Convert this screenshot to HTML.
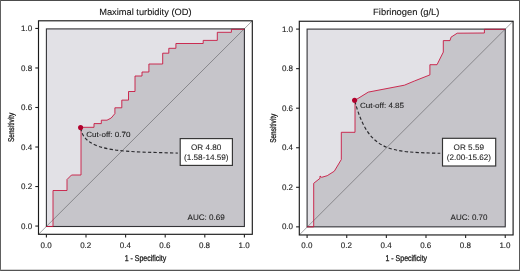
<!DOCTYPE html>
<html><head><meta charset="utf-8"><title>ROC curves</title>
<style>
html,body{margin:0;padding:0;background:#fff;}
body{width:520px;height:271px;overflow:hidden;position:relative;}
svg{display:block;position:absolute;left:0;top:0;will-change:transform;}
text{font-family:"Liberation Sans",sans-serif;text-rendering:geometricPrecision;fill:#1c1c1c;stroke:#1c1c1c;stroke-width:0.22px;}
.tk{font-size:8px;stroke-width:0.12px;}
.ct{font-size:7.5px;stroke-width:0.08px;}
.bx{font-size:8px;stroke-width:0.08px;}
.tt{font-size:9.1px;fill:#141414;stroke:#141414;stroke-width:0.1px;}
.ax{font-size:8.4px;stroke-width:0.3px;}
</style></head>
<body>
<svg width="520" height="271" viewBox="0 0 520 271">
<rect x="0" y="0" width="520" height="271" fill="#fff"/>
<rect x="46.4" y="28.9" width="198.0" height="197.6" fill="#e2e1e6"/>
<path d="M46.4,226.5 H53 V190.5 H67 V179.5 L71.5,175 H81 V127.3 H94 V123.6 H101.3 V120.2 H107 L111.2,118 L114.9,113.6 V107.8 H121.8 V100.1 H128.5 V91.5 H135 V76 H142 V72 H148.9 V64 H162.7 V53.2 H168.8 V48.3 H175.9 V43.5 H203.2 V40.4 H217.3 V32.3 H231.4 V29.3 H244.4 V226.5 Z" fill="#c6c5ca"/>
<line x1="38.5" y1="234.3" x2="252.3" y2="20.8" stroke="#48484c" stroke-width="0.5"/>
<rect x="46.4" y="28.9" width="198.0" height="197.6" fill="none" stroke="#343438" stroke-width="1.1"/>
<path d="M46.4,226.5 H53 V190.5 H67 V179.5 L71.5,175 H81 V127.3 H94 V123.6 H101.3 V120.2 H107 L111.2,118 L114.9,113.6 V107.8 H121.8 V100.1 H128.5 V91.5 H135 V76 H142 V72 H148.9 V64 H162.7 V53.2 H168.8 V48.3 H175.9 V43.5 H203.2 V40.4 H217.3 V32.3 H231.4 V29.3 H244.4" fill="none" stroke="#c8143f" stroke-width="0.88" stroke-linejoin="miter"/>
<rect x="38.5" y="20.8" width="213.8" height="213.5" fill="none" stroke="#1a1a1a" stroke-width="1.15"/>
<line x1="46.40" y1="234.3" x2="46.40" y2="237.4" stroke="#222" stroke-width="1.1"/>
<line x1="35.3" y1="226.05" x2="38.5" y2="226.05" stroke="#222" stroke-width="1.1"/>
<text x="46.10" y="247.8" text-anchor="middle" class="tk">0.0</text>
<text x="32.20" y="228.65" text-anchor="end" class="tk">0.0</text>
<line x1="86.00" y1="234.3" x2="86.00" y2="237.4" stroke="#222" stroke-width="1.1"/>
<line x1="35.3" y1="186.53" x2="38.5" y2="186.53" stroke="#222" stroke-width="1.1"/>
<text x="85.70" y="247.8" text-anchor="middle" class="tk">0.2</text>
<text x="32.20" y="189.13" text-anchor="end" class="tk">0.2</text>
<line x1="125.60" y1="234.3" x2="125.60" y2="237.4" stroke="#222" stroke-width="1.1"/>
<line x1="35.3" y1="147.01" x2="38.5" y2="147.01" stroke="#222" stroke-width="1.1"/>
<text x="125.30" y="247.8" text-anchor="middle" class="tk">0.4</text>
<text x="32.20" y="149.61" text-anchor="end" class="tk">0.4</text>
<line x1="165.20" y1="234.3" x2="165.20" y2="237.4" stroke="#222" stroke-width="1.1"/>
<line x1="35.3" y1="107.49" x2="38.5" y2="107.49" stroke="#222" stroke-width="1.1"/>
<text x="164.90" y="247.8" text-anchor="middle" class="tk">0.6</text>
<text x="32.20" y="110.09" text-anchor="end" class="tk">0.6</text>
<line x1="204.80" y1="234.3" x2="204.80" y2="237.4" stroke="#222" stroke-width="1.1"/>
<line x1="35.3" y1="67.97" x2="38.5" y2="67.97" stroke="#222" stroke-width="1.1"/>
<text x="204.50" y="247.8" text-anchor="middle" class="tk">0.8</text>
<text x="32.20" y="70.57" text-anchor="end" class="tk">0.8</text>
<line x1="244.40" y1="234.3" x2="244.40" y2="237.4" stroke="#222" stroke-width="1.1"/>
<line x1="35.3" y1="28.45" x2="38.5" y2="28.45" stroke="#222" stroke-width="1.1"/>
<text x="244.10" y="247.8" text-anchor="middle" class="tk">1.0</text>
<text x="32.20" y="31.05" text-anchor="end" class="tk">1.0</text>
<path d="M80.8,128 C83.8,153.4 128.2,151.5 177.8,153.1" fill="none" stroke="#2a2a2e" stroke-width="1.15" stroke-dasharray="3.3 2.2"/>
<circle cx="80.6" cy="127.6" r="2.55" fill="#b2002c"/>
<text x="86.3" y="136.7" textLength="44.2" lengthAdjust="spacingAndGlyphs" class="ct">Cut-off: 0.70</text>
<rect x="180.2" y="138.6" width="52.20000000000002" height="26.80000000000001" fill="#fff" stroke="#333" stroke-width="1.15"/>
<text x="191" y="149.9" textLength="30.3" lengthAdjust="spacingAndGlyphs" class="bx">OR 4.80</text>
<text x="184" y="159.5" textLength="44.6" lengthAdjust="spacingAndGlyphs" class="bx">(1.58-14.59)</text>
<text x="187.5" y="220" textLength="37.3" lengthAdjust="spacingAndGlyphs" class="bx">AUC: 0.69</text>
<text x="99.2" y="15.2" textLength="92.3" lengthAdjust="spacingAndGlyphs" class="tt">Maximal turbidity (OD)</text>
<text x="124.70000000000002" y="260.6" textLength="41.6" lengthAdjust="spacingAndGlyphs" class="ax">1 - Specificity</text>
<g transform="translate(14.250000000000002,127.4) rotate(-90)"><text x="-14.55" y="0" textLength="29.1" lengthAdjust="spacingAndGlyphs" class="ax">Sensitivity</text></g>
<rect x="307.1" y="29.1" width="198.14999999999998" height="197.75" fill="#e2e1e6"/>
<path d="M307.1,226.85 H313.7 V183.3 L320,178.3 V176 L321.7,177.3 L327.2,175.7 L334.3,171.2 L341.3,159.5 V132.3 H355 V100.3 L368.3,92.1 L404.4,85.2 L414.4,81 L429.9,74.9 V64.7 H437 L443.3,52.1 V40.6 H450 L451,37.2 L457.2,33.2 L484.4,33 V29.3 H505.25 V226.85 Z" fill="#c6c5ca"/>
<line x1="299.3" y1="234.95" x2="513.1" y2="21.25" stroke="#48484c" stroke-width="0.5"/>
<rect x="307.1" y="29.1" width="198.14999999999998" height="197.75" fill="none" stroke="#343438" stroke-width="1.1"/>
<path d="M307.1,226.85 H313.7 V183.3 L320,178.3 V176 L321.7,177.3 L327.2,175.7 L334.3,171.2 L341.3,159.5 V132.3 H355 V100.3 L368.3,92.1 L404.4,85.2 L414.4,81 L429.9,74.9 V64.7 H437 L443.3,52.1 V40.6 H450 L451,37.2 L457.2,33.2 L484.4,33 V29.3 H505.25" fill="none" stroke="#c8143f" stroke-width="0.88" stroke-linejoin="miter"/>
<rect x="299.3" y="21.25" width="213.8" height="213.7" fill="none" stroke="#1a1a1a" stroke-width="1.15"/>
<line x1="307.10" y1="234.95" x2="307.10" y2="238.04999999999998" stroke="#222" stroke-width="1.1"/>
<line x1="296.1" y1="226.85" x2="299.3" y2="226.85" stroke="#222" stroke-width="1.1"/>
<text x="306.80" y="247.8" text-anchor="middle" class="tk">0.0</text>
<text x="293.00" y="229.45" text-anchor="end" class="tk">0.0</text>
<line x1="346.73" y1="234.95" x2="346.73" y2="238.04999999999998" stroke="#222" stroke-width="1.1"/>
<line x1="296.1" y1="187.30" x2="299.3" y2="187.30" stroke="#222" stroke-width="1.1"/>
<text x="346.43" y="247.8" text-anchor="middle" class="tk">0.2</text>
<text x="293.00" y="189.90" text-anchor="end" class="tk">0.2</text>
<line x1="386.36" y1="234.95" x2="386.36" y2="238.04999999999998" stroke="#222" stroke-width="1.1"/>
<line x1="296.1" y1="147.75" x2="299.3" y2="147.75" stroke="#222" stroke-width="1.1"/>
<text x="386.06" y="247.8" text-anchor="middle" class="tk">0.4</text>
<text x="293.00" y="150.35" text-anchor="end" class="tk">0.4</text>
<line x1="425.99" y1="234.95" x2="425.99" y2="238.04999999999998" stroke="#222" stroke-width="1.1"/>
<line x1="296.1" y1="108.20" x2="299.3" y2="108.20" stroke="#222" stroke-width="1.1"/>
<text x="425.69" y="247.8" text-anchor="middle" class="tk">0.6</text>
<text x="293.00" y="110.80" text-anchor="end" class="tk">0.6</text>
<line x1="465.62" y1="234.95" x2="465.62" y2="238.04999999999998" stroke="#222" stroke-width="1.1"/>
<line x1="296.1" y1="68.65" x2="299.3" y2="68.65" stroke="#222" stroke-width="1.1"/>
<text x="465.32" y="247.8" text-anchor="middle" class="tk">0.8</text>
<text x="293.00" y="71.25" text-anchor="end" class="tk">0.8</text>
<line x1="505.25" y1="234.95" x2="505.25" y2="238.04999999999998" stroke="#222" stroke-width="1.1"/>
<line x1="296.1" y1="29.10" x2="299.3" y2="29.10" stroke="#222" stroke-width="1.1"/>
<text x="504.95" y="247.8" text-anchor="middle" class="tk">1.0</text>
<text x="293.00" y="31.70" text-anchor="end" class="tk">1.0</text>
<path d="M354.8,101 C368.8,153.3 391,151.8 440.3,153.3" fill="none" stroke="#2a2a2e" stroke-width="1.15" stroke-dasharray="3.3 2.2"/>
<circle cx="354.6" cy="100.2" r="2.55" fill="#b2002c"/>
<text x="359.9" y="108.1" textLength="44.2" lengthAdjust="spacingAndGlyphs" class="ct">Cut-off: 4.85</text>
<rect x="442.5" y="138.3" width="53.19999999999999" height="27.69999999999999" fill="#fff" stroke="#333" stroke-width="1.15"/>
<text x="453.6" y="149.9" textLength="30.4" lengthAdjust="spacingAndGlyphs" class="bx">OR 5.59</text>
<text x="446.8" y="159.5" textLength="44.2" lengthAdjust="spacingAndGlyphs" class="bx">(2.00-15.62)</text>
<text x="450.6" y="220" textLength="36.9" lengthAdjust="spacingAndGlyphs" class="bx">AUC: 0.70</text>
<text x="373.1" y="15.2" textLength="66.4" lengthAdjust="spacingAndGlyphs" class="tt">Fibrinogen (g/L)</text>
<text x="385.50000000000006" y="260.96000000000004" textLength="41.6" lengthAdjust="spacingAndGlyphs" class="ax">1 - Specificity</text>
<g transform="translate(275.75000000000006,128.3) rotate(-90)"><text x="-14.55" y="0" textLength="29.1" lengthAdjust="spacingAndGlyphs" class="ax">Sensitivity</text></g>
<rect x="0" y="0" width="520" height="1" fill="#4c4c4c"/>
<rect x="0" y="270" width="520" height="1" fill="#4c4c4c"/>
<rect x="0" y="0" width="1" height="271" fill="#606060"/>
<rect x="519" y="0" width="1" height="271" fill="#585858"/>
<line x1="0" y1="269.75" x2="520" y2="269.75" stroke="#888" stroke-width="0.5"/>
</svg>
</body></html>
